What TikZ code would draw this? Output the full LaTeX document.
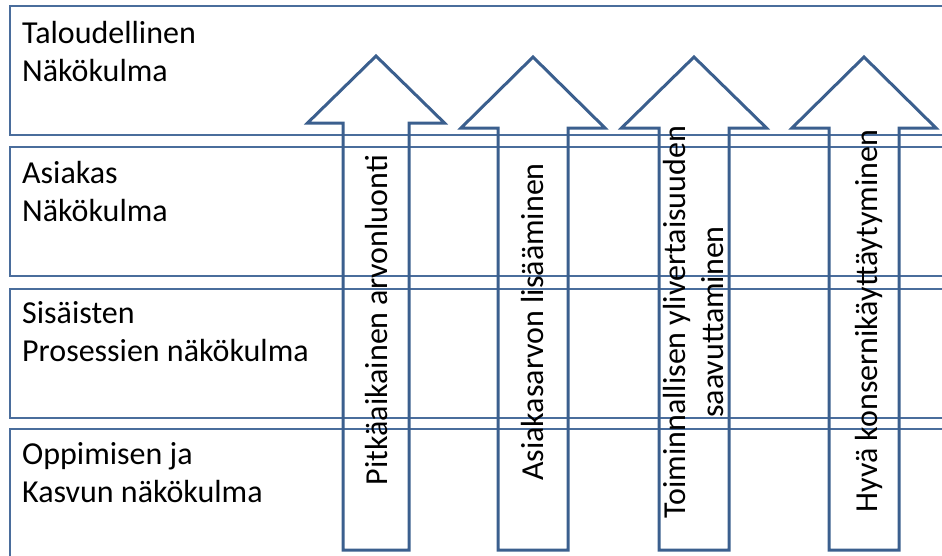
\documentclass[tikz,border=0pt]{standalone}
\usepackage{fontspec}
\setmainfont{Carlito}
\definecolor{bandblue}{HTML}{4A6D9C}
\definecolor{arrowblue}{HTML}{3B5F8E}
\begin{document}
\begin{tikzpicture}[x=1pt,y=-1pt,
  band/.style={draw=bandblue,line width=1.3pt},
  uparrow/.style={draw=arrowblue,line width=3pt,line join=miter},
  bandlabel/.style={inner sep=0pt,anchor=base west,font=\fontsize{32}{38.4}\selectfont},
  arrowtext/.style={inner sep=0pt,anchor=base,rotate=90,font=\fontsize{32}{38.4}\selectfont}]
\useasboundingbox (0,0) rectangle (942,555);
\clip (0,0) rectangle (942,555);

% the four perspective bands (open to the right)
\draw[band] (10,6)   rectangle (960,135);
\draw[band] (10,147) rectangle (960,276);
\draw[band] (10,289) rectangle (960,418);
\draw[band] (10,429) rectangle (960,590);

\node[bandlabel] (fin)  at (22,43)  {\begin{tabular}[t]{@{}l@{}}Taloudellinen\\Näkökulma\end{tabular}};
\node[bandlabel] (cust) at (22,183) {\begin{tabular}[t]{@{}l@{}}Asiakas\\Näkökulma\end{tabular}};
\node[bandlabel] (proc) at (22,323) {\begin{tabular}[t]{@{}l@{}}Sisäisten\\Prosessien näkökulma\end{tabular}};
\node[bandlabel] (grow) at (22,464) {\begin{tabular}[t]{@{}l@{}}Oppimisen ja\\Kasvun näkökulma\end{tabular}};

% upward block arrows: centre x / head half-width / shaft half-width / head base y / tip y
\foreach \cx/\hw/\sw/\hb/\tip in {376/68.5/33/123/56, 533/72/35/128/57, 694/72.5/35/128/57, 864/72/35/128/57}{
  \draw[uparrow] (\cx-\sw,550) -- (\cx-\sw,\hb) -- (\cx-\hw,\hb) -- (\cx,\tip)
     -- (\cx+\hw,\hb) -- (\cx+\sw,\hb) -- (\cx+\sw,550) -- cycle;
}

\node[arrowtext] (value)  at (387,320) {Pitkäaikainen arvonluonti};
\node[arrowtext] (custv)  at (543,322) {Asiakasarvon lisääminen};
\node[arrowtext] (oper)   at (685,322) {\begin{tabular}[t]{@{}c@{}}Toiminnallisen ylivertaisuuden\\saavuttaminen\end{tabular}};
\node[arrowtext] (group)  at (877,321) {Hyvä konsernikäyttäytyminen};
\end{tikzpicture}
\end{document}
